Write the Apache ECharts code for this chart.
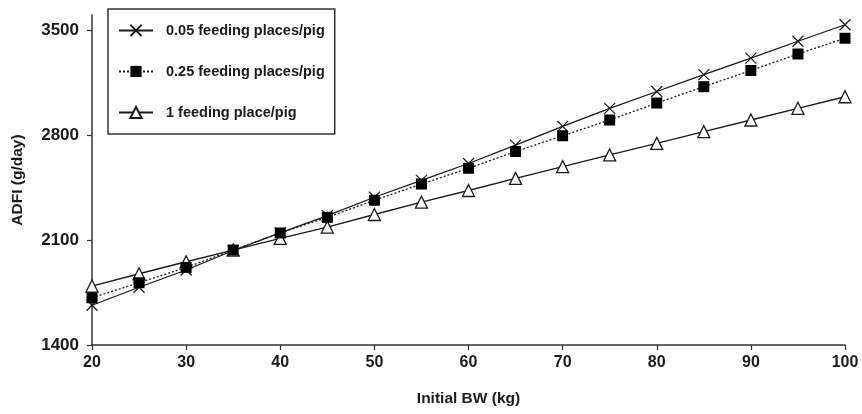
<!DOCTYPE html>
<html>
<head>
<meta charset="utf-8">
<script src="https://cdn.jsdelivr.net/npm/echarts@6/dist/echarts.min.js"></script>
<style>
  html, body { margin: 0; padding: 0; background: #fff; }
  #chart { width: 862px; height: 414px; }
</style>
</head>
<body>
<div id="chart"></div>
<script>
// initial body weight (kg)
var bw = [20, 25, 30, 35, 40, 45, 50, 55, 60, 65, 70, 75, 80, 85, 90, 95, 100];
// ADFI (g/day)
var places005 = [1665, 1785, 1900, 2030, 2148, 2262, 2385, 2497, 2610, 2733, 2858, 2978, 3090, 3203, 3313, 3425, 3535];
var places025 = [1715, 1815, 1917, 2033, 2147, 2251, 2365, 2473, 2578, 2690, 2795, 2900, 3013, 3122, 3230, 3340, 3445];
var places1 = [1793, 1875, 1955, 2033, 2111, 2186, 2270, 2352, 2430, 2511, 2589, 2667, 2744, 2822, 2900, 2978, 3055];
var yTicks = [1400, 2100, 2800, 3500];
var names = ['0.05 feeding places/pig', '0.25 feeding places/pig', '1 feeding place/pig'];

function pairs(ys) {
  return bw.map(function (x, i) { return [x, ys[i]]; });
}

var font = 'Liberation Sans, Arial, sans-serif';
var ink = '#1a1a1a';
var crossPath = 'path://M0,0L10,10M10,0L0,10';

var chart = echarts.init(document.getElementById('chart'));
chart.setOption({
  animation: false,
  grid: { left: 92, right: 17, top: 15, bottom: 69, outerBoundsMode: 'none' },
  legend: {
    orient: 'vertical',
    left: 108,
    top: 9,
    padding: [14, 10, 14, 10],
    itemWidth: 34,
    itemHeight: 14,
    itemGap: 26,
    borderColor: '#333',
    borderWidth: 1.5,
    textStyle: { fontFamily: font, fontWeight: 'bold', fontSize: 14.5, color: ink, padding: [0, 0, 0, 8] },
    data: names
  },
  xAxis: {
    type: 'value',
    min: 20, max: 100, interval: 10,
    name: 'Initial BW (kg)',
    nameLocation: 'middle',
    nameGap: 46,
    nameTextStyle: { fontFamily: font, fontWeight: 'bold', fontSize: 15.5, color: ink },
    axisLine: { lineStyle: { color: '#333', width: 1.5 } },
    axisTick: { length: 5, lineStyle: { color: '#333', width: 1.2 } },
    axisLabel: { fontFamily: font, fontWeight: 'bold', fontSize: 16, color: ink, margin: 10 },
    splitLine: { show: false }
  },
  yAxis: {
    type: 'value',
    min: 1400, max: 3600,
    name: 'ADFI (g/day)',
    nameLocation: 'middle',
    nameGap: 66,
    nameRotate: 90,
    nameTextStyle: { fontFamily: font, fontWeight: 'bold', fontSize: 15.5, color: ink },
    axisLine: { show: true, lineStyle: { color: '#333', width: 1.5 } },
    axisTick: { show: true, length: 5, customValues: yTicks, lineStyle: { color: '#333', width: 1.2 } },
    axisLabel: {
      fontFamily: font, fontWeight: 'bold', fontSize: 17, color: ink, margin: 13,
      customValues: yTicks,
      formatter: function (v) { return String(v); }
    },
    splitLine: { show: false }
  },
  series: [
    {
      name: names[0],
      type: 'line',
      data: pairs(places005),
      symbol: crossPath,
      symbolSize: 11,
      lineStyle: { color: ink, width: 1.3 },
      itemStyle: { color: 'rgba(0,0,0,0)', borderColor: ink, borderWidth: 1.2 },
      z: 3
    },
    {
      name: names[1],
      type: 'line',
      data: pairs(places025),
      symbol: 'rect',
      symbolSize: 11,
      lineStyle: { color: ink, width: 1.3, type: [2, 2] },
      itemStyle: { color: '#000', borderColor: '#000', borderWidth: 0 },
      z: 4
    },
    {
      name: names[2],
      type: 'line',
      data: pairs(places1),
      symbol: 'triangle',
      symbolSize: 12,
      lineStyle: { color: ink, width: 1.3 },
      itemStyle: { color: '#fff', borderColor: ink, borderWidth: 1.3 },
      z: 2
    }
  ]
});
</script>
</body>
</html>
